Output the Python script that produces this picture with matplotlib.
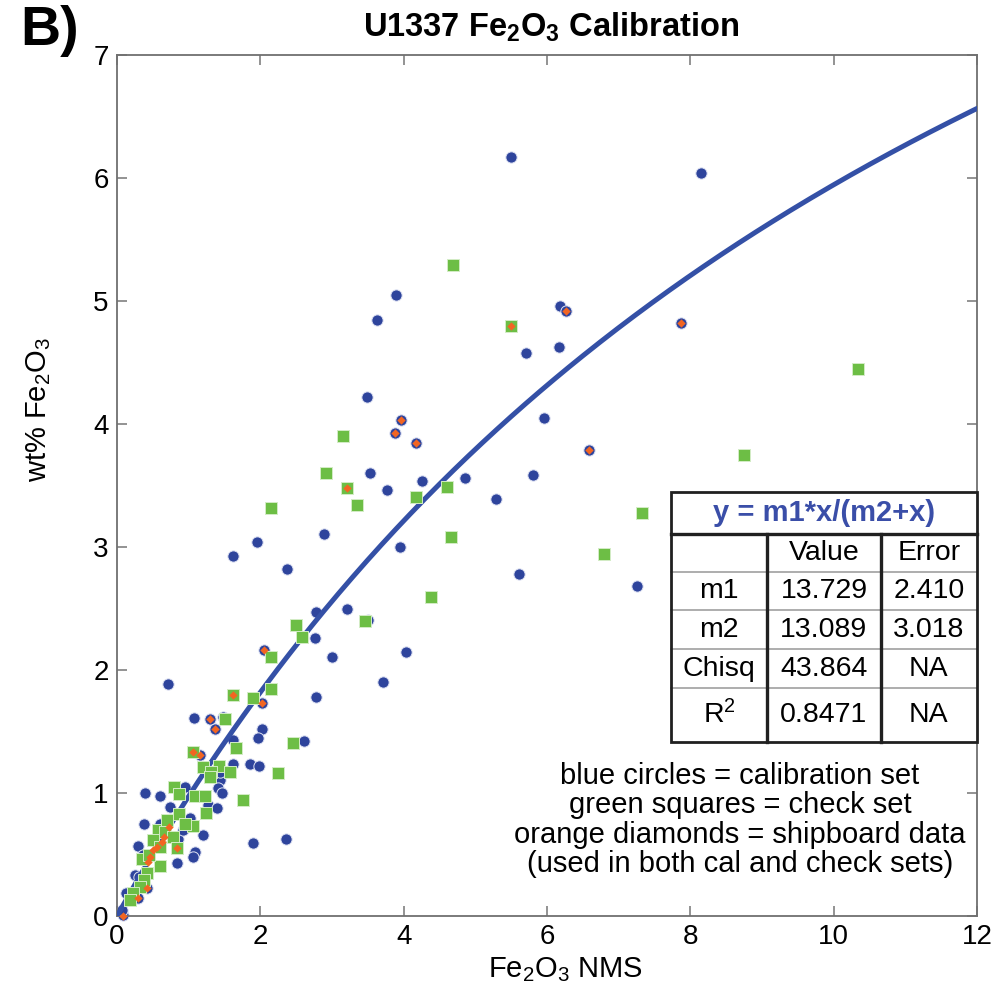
import numpy as np
import matplotlib.pyplot as plt
from matplotlib.patches import Rectangle

plt.rcParams['font.family'] = ['Liberation Sans', 'DejaVu Sans']
plt.rcParams['mathtext.fontset'] = 'custom'
plt.rcParams['mathtext.rm'] = 'Liberation Sans'
plt.rcParams['mathtext.it'] = 'Liberation Sans:italic'
plt.rcParams['mathtext.bf'] = 'Liberation Sans:bold'
plt.rcParams['mathtext.default'] = 'regular'

# calibration set (blue circles)
cal_x = [5.50, 8.15, 3.89, 3.63, 6.18, 6.27, 5.71, 6.17, 7.87, 5.96,
         3.49, 3.96, 3.88, 4.17, 6.59, 3.53, 3.77, 4.26, 4.86, 5.80,
         5.29, 3.95, 5.61, 7.26, 4.03, 3.71, 2.89, 1.95, 1.62, 2.37,
         2.78, 3.21, 3.50, 2.76, 2.05, 3.00, 0.71, 2.78, 2.02, 1.08,
         1.30, 1.48, 1.37, 2.02, 1.97, 1.62, 2.61, 1.16, 1.62, 1.86,
         1.98, 1.44, 1.41, 1.47, 0.39, 0.60, 0.95, 1.27, 1.40, 0.74,
         1.02, 0.38, 0.60, 1.20, 0.85, 0.29, 1.09, 1.06, 0.84, 0.25,
         0.13, 0.08, 1.90, 2.36, 0.36, 0.92, 0.31, 0.42, 0.29, 0.07, 1.44]
cal_y = [6.17, 6.04, 5.05, 4.85, 4.96, 4.92, 4.58, 4.63, 4.82, 4.05,
         4.22, 4.03, 3.93, 3.85, 3.79, 3.60, 3.46, 3.54, 3.56, 3.59,
         3.39, 3.00, 2.78, 2.68, 2.15, 1.90, 3.11, 3.04, 2.93, 2.82,
         2.47, 2.50, 2.41, 2.26, 2.16, 2.11, 1.89, 1.78, 1.73, 1.61,
         1.60, 1.62, 1.52, 1.52, 1.45, 1.43, 1.42, 1.31, 1.24, 1.24,
         1.22, 1.11, 1.04, 1.00, 1.00, 0.98, 1.05, 0.90, 0.88, 0.89,
         0.80, 0.75, 0.75, 0.66, 0.63, 0.57, 0.52, 0.48, 0.43, 0.33,
         0.19, 0.01, 0.59, 0.63, 0.50, 0.70, 0.32, 0.23, 0.15, 0.05, 1.17]

# check set (green squares)
chk_x = [4.69, 5.50, 10.34, 3.15, 2.92, 3.21, 4.60, 4.17, 8.75, 7.33,
         4.66, 6.80, 4.38, 3.35, 2.15, 2.50, 3.46, 2.58, 2.15, 1.62,
         1.90, 2.15, 1.51, 1.66, 2.46, 1.06, 1.20, 1.42, 1.58, 1.31,
         2.25, 1.30, 0.80, 0.86, 1.09, 1.23, 1.76, 1.24, 0.86, 1.06,
         0.57, 0.67, 0.78, 0.50, 0.60, 0.35, 0.60, 0.42, 0.37, 0.32,
         0.22, 0.18, 0.70, 0.95, 0.45, 0.84]
chk_y = [5.29, 4.80, 4.45, 3.90, 3.60, 3.48, 3.49, 3.41, 3.75, 3.28,
         3.08, 2.94, 2.59, 3.34, 3.32, 2.37, 2.40, 2.27, 2.11, 1.80,
         1.77, 1.85, 1.60, 1.37, 1.41, 1.33, 1.21, 1.22, 1.17, 1.17,
         1.16, 1.13, 1.05, 0.99, 0.98, 0.98, 0.94, 0.84, 0.83, 0.73,
         0.70, 0.68, 0.64, 0.62, 0.56, 0.46, 0.41, 0.35, 0.29, 0.24,
         0.19, 0.13, 0.78, 0.75, 0.50, 0.55]

# shipboard data (orange diamonds)
ship_x = [6.27, 7.87, 5.50, 3.96, 3.88, 4.17, 6.59, 3.21, 2.05, 1.62,
          2.02, 1.30, 1.37, 1.06, 1.16, 0.73, 0.66, 0.63, 0.56, 0.50,
          0.46, 0.43, 0.84, 0.42, 0.29, 0.08]
ship_y = [4.92, 4.82, 4.80, 4.03, 3.93, 3.85, 3.79, 3.48, 2.16, 1.80,
          1.73, 1.60, 1.52, 1.33, 1.31, 0.72, 0.64, 0.60, 0.56, 0.54,
          0.48, 0.44, 0.55, 0.23, 0.15, 0.00]

# fit parameters
m1, m2 = 13.729, 13.089
tbl_cols = ['', 'Value', 'Error']
tbl_rows = [['m1', '13.729', '2.410'],
            ['m2', '13.089', '3.018'],
            ['Chisq', '43.864', 'NA'],
            ['R$^2$', '0.8471', 'NA']]

blue = '#2E449C'
green = '#6DBE45'
orange = '#F26522'
line_blue = '#3450A6'

fig = plt.figure(figsize=(9.96, 9.93), dpi=100)
ax = fig.add_axes([0.1175, 0.0775, 0.8635, 0.867])

ax.scatter(cal_x, cal_y, s=66, marker='o', color=blue, edgecolors='#dfe3f3',
           linewidths=0.7, zorder=2, clip_on=False)
xfit = np.linspace(0, 12, 300)
ax.plot(xfit, m1 * xfit / (m2 + xfit), color=line_blue, lw=3.6, zorder=3)
ax.scatter(chk_x, chk_y, s=66, marker='s', color=green, edgecolors='#d3ecc6',
           linewidths=0.7, zorder=4, clip_on=False)
ax.scatter(ship_x, ship_y, s=18, marker='D', color=orange, linewidths=0,
           zorder=5, clip_on=False)

ax.set_xlim(0, 12)
ax.set_ylim(0, 7)
ax.set_xticks(range(0, 13, 2))
ax.set_yticks(range(0, 8))
for sp in ax.spines.values():
    sp.set_color('#707070')
    sp.set_linewidth(1.3)
ax.tick_params(direction='in', length=7, width=1.2, color='#808080',
               top=True, right=True, labelsize=20, pad=6)

ax.set_xlabel('Fe$_2$O$_3$ NMS', fontsize=21)
ax.xaxis.set_label_coords(0.521, -0.046)
ax.set_ylabel('wt% Fe$_2$O$_3$', fontsize=21)
ax.yaxis.set_label_coords(-0.074, 0.588)
ax.text(0.505, 1.021, 'U1337 Fe$_2$O$_3$ Calibration', transform=ax.transAxes,
        ha='center', va='baseline', fontsize=23.5, fontweight='bold')
fig.text(0.02, 0.955, 'B)', ha='left', va='baseline', fontsize=40,
         fontweight='bold')

# fit table
tx = [0.644, 0.756, 0.888, 1.0]
ty = [0.4925, 0.4437, 0.3995, 0.3554, 0.3101, 0.2648, 0.2021]
tr = ax.transAxes
ax.add_patch(Rectangle((tx[0], ty[-1]), tx[-1] - tx[0], ty[0] - ty[-1],
                       transform=tr, facecolor='white', edgecolor='none',
                       zorder=6, clip_on=False))
for yy in ty[2:-1]:
    ax.plot([tx[0], tx[-1]], [yy, yy], transform=tr, color='#a0a0a0',
            lw=1.2, zorder=7, clip_on=False)
for xx in tx[1:3]:
    ax.plot([xx, xx], [ty[1], ty[-1]], transform=tr, color='#202020',
            lw=2.4, zorder=8, clip_on=False)
ax.plot([tx[0], tx[-1]], [ty[1], ty[1]], transform=tr, color='#202020',
        lw=2.4, zorder=8, clip_on=False)
ax.add_patch(Rectangle((tx[0], ty[-1]), tx[-1] - tx[0], ty[0] - ty[-1],
                       transform=tr, facecolor='none', edgecolor='#202020',
                       lw=2.0, zorder=8, clip_on=False))
ax.text((tx[0] + tx[-1]) / 2, (ty[0] + ty[1]) / 2, 'y = m1*x/(m2+x)',
        transform=tr, ha='center', va='center', fontsize=21,
        fontweight='bold', color='#3A4EA8', zorder=9)
cx = [(tx[i] + tx[i + 1]) / 2 for i in range(3)]
for j, lab in enumerate(tbl_cols):
    ax.text(cx[j], (ty[1] + ty[2]) / 2, lab, transform=tr, ha='center',
            va='center', fontsize=20.5, zorder=9)
for i, row in enumerate(tbl_rows):
    for j, val in enumerate(row):
        ax.text(cx[j], (ty[i + 2] + ty[i + 3]) / 2, val, transform=tr,
                ha='center', va='center', fontsize=20.5, zorder=9)

ax.text(0.7244, 0.1115,
        'blue circles = calibration set\ngreen squares = check set\n'
        'orange diamonds = shipboard data\n(used in both cal and check sets)',
        transform=tr, ha='center', va='center', multialignment='center',
        fontsize=21, linespacing=1.06, zorder=9)

fig.savefig('out.png', dpi=100)
